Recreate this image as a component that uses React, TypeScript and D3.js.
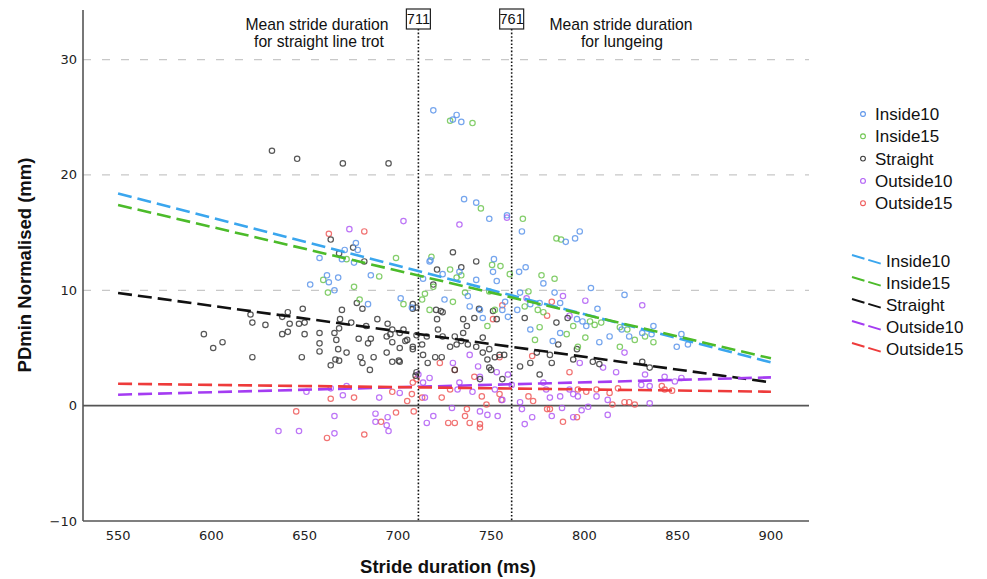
import React from "react";
import * as d3 from "d3";

const xTicks = [550, 600, 650, 700, 750, 800, 850, 900];
const yTicks = [-10, 0, 10, 20, 30];
const gridValues = [10, 20, 30];
const seriesNames = ["Inside10", "Inside15", "Straight", "Outside10", "Outside15"];
const pointColors = ["#5d95ea", "#6fc651", "#3a3a3a", "#b05cf5", "#ef5a5a"];
const lineColors = ["#3aa6ee", "#4cbb2a", "#111111", "#a43cf2", "#ee3b3b"];
const meanLines = [711, 761];

// regression fits [x0, y0, x1, y1]
const fitInside10 = [550, 18.4, 900, 3.75];
const fitInside15 = [550, 17.4, 900, 4.1];
const fitStraight = [550, 9.77, 900, 2.02];
const fitOutside10 = [550, 0.95, 900, 2.45];
const fitOutside15 = [550, 1.9, 900, 1.21];

const straight = [
  [632.5, 22.1], [646, 21.4], [670.5, 21.0], [695, 21.0],
  [664, 14.4], [668.5, 13.2], [676, 13.7], [682, 12.5],
  [729.5, 13.3], [742, 12.5], [734, 12.0], [721, 11.8],
  [719, 10.5], [720.5, 8.3], [723, 8.2], [724, 8.1], [721, 7.5], [735, 7.5], [737, 6.9], [735, 6.3],
  [743.5, 8.4], [741, 7.6], [751, 8.2], [753, 7.5], [721.5, 6.6], [710, 8.5], [708, 8.8], [715.5, 6.0],
  [724, 6.0], [730.5, 6.0], [745.5, 5.9], [705, 5.7], [694, 6.0], [701, 6.3], [697, 6.6],
  [596, 6.2], [601, 5.0], [606, 5.5], [621, 7.9], [622, 7.2], [622, 4.2], [629, 7.0], [638, 7.7],
  [641, 8.1], [638, 6.2], [641, 6.4], [642, 7.1], [647, 7.1], [649, 8.4], [650, 6.2], [650, 7.2],
  [648.5, 4.2], [658, 6.3], [658, 5.4], [658, 4.7], [664, 3.5], [666, 6.3], [667, 5.7], [668, 4.9],
  [668.5, 6.7], [669, 7.5], [670, 8.3], [668.5, 3.9], [666.5, 4.0], [672.5, 4.6], [675, 7.2],
  [678, 8.9], [679, 5.8], [681, 8.4], [680, 4.2], [681, 3.7], [684, 5.4], [685.5, 5.8], [685, 3.1],
  [683, 6.9], [687, 4.2], [689, 7.5], [694, 4.6], [694.5, 7.1], [696, 6.2], [697, 5.5], [697, 3.8],
  [700.5, 3.9], [701, 5.0], [703, 6.6], [704, 5.6], [708, 4.9], [708, 8.4], [710, 6.1], [709.5, 2.6],
  [701, 3.8], [708, 5.1], [713.5, 4.4], [716, 3.7], [720, 4.2], [723.5, 4.2], [710, 2.9], [713, 5.3],
  [728, 5.1], [731.5, 5.3], [734, 5.6], [737.5, 5.3], [742, 5.1], [745.5, 4.6], [748, 4.0], [749, 3.3],
  [752, 4.2], [754.5, 4.4], [757, 4.4], [756, 2.3], [730.5, 3.1], [749, 4.9],
  [771, 3.7], [776, 2.7], [765.5, 3.4], [781.5, 4.4], [782.5, 3.7], [786, 5.3], [794, 4.0], [796, 4.9],
  [804.5, 3.8], [808, 3.6], [831, 3.8], [774.5, 4.6], [768, 7.6], [785, 7.2], [791, 7.6], [835, 3.3],
  [744, 2.3], [750, 3.1],
];

const inside10 = [
  [719, 25.6], [731.5, 25.2], [729.5, 24.8], [734, 24.6], [735.5, 17.9], [742, 17.6], [749, 16.2],
  [758.5, 16.5], [766.5, 15.1], [790, 14.2], [795, 14.5], [797.5, 15.1], [717.5, 12.6], [751.5, 12.7],
  [751, 11.6], [753, 10.8], [742, 10.9], [768.5, 12.0], [765, 11.6], [778, 10.6], [784, 9.8],
  [803.5, 10.2], [821.5, 9.6], [724, 11.4], [713.5, 11.0],
  [653, 10.5], [658, 12.8], [662, 11.3], [663, 10.7], [668, 11.1], [666, 10.0], [670, 12.7],
  [671.5, 13.5], [677.5, 14.1], [676.5, 12.4], [678.5, 13.5], [685.5, 11.3], [701.5, 9.3],
  [707.5, 8.5], [684, 8.8],
  [717, 12.5], [725, 9.2], [733, 11.6], [737.5, 9.5], [744, 8.3], [745.5, 7.6], [756, 8.3],
  [759, 7.7], [757.5, 9.0], [738.5, 8.6],
  [771, 8.8], [776, 8.9], [787, 8.9], [796, 7.5], [807, 8.4], [771, 6.6], [799, 7.3], [801, 6.9],
  [808, 5.5], [813.5, 6.0], [824, 6.0], [831, 6.3], [820, 6.6], [787, 6.3], [783, 5.6], [764, 8.3],
  [765.5, 9.8], [837, 6.9], [852, 6.2], [849.5, 5.1], [855.5, 5.3], [836, 6.2],
];

const inside15 = [
  [728, 24.7], [740, 24.5], [744.5, 17.1], [767, 16.2], [785, 14.5], [787.5, 14.4], [718, 12.9],
  [728, 11.8], [734, 11.3], [750.5, 12.2], [755, 12.1], [760, 11.4], [777, 11.3], [784, 11.0],
  [660, 10.9], [662.5, 9.8], [672.5, 12.7], [676.5, 10.3], [690, 11.2], [699, 12.8], [679.5, 9.2],
  [731.5, 11.1], [719, 10.3], [714.5, 9.7], [717, 8.3], [729.5, 9.0], [736, 9.8], [749, 9.9],
  [752, 8.3], [748, 6.9], [703, 8.8], [713, 9.2],
  [770, 9.9], [768, 8.6], [775, 8.3], [778, 8.1], [776, 6.8], [773.5, 5.7], [790.5, 6.2], [794, 6.9],
  [803, 7.3], [805.5, 7.0], [809, 7.2], [800.5, 5.9], [819, 6.8], [823, 6.6], [827, 5.7], [819, 5.1],
  [796.5, 5.1], [837, 5.5], [832.5, 6.0],
];

const outside10 = [
  [674, 15.3], [703, 16.0], [733, 15.7], [758.5, 16.3],
  [636, -2.2], [647, -2.2], [651, 1.2], [666, -0.9], [666, -2.4], [670.5, 0.9], [672.5, 1.7],
  [688, -0.7], [688, -1.4], [690, 0.7], [694.5, -1.0], [694, -1.7], [695, -2.2], [701, 1.1], [711, 2.7],
  [713.5, 2.0], [717, 2.4], [714.5, 0.7], [729.5, 3.7], [729, -0.2], [719, -0.9], [715.5, -1.5],
  [738.5, 4.4], [743, 3.4], [744, 2.5], [740, 1.2], [753, 2.9], [752, 1.4], [756, 0.5], [753.5, -0.9],
  [732, 1.4], [733, 2.0], [744, -0.5], [748, -0.8], [759, 2.7], [761, 1.8],
  [765.5, 0.3], [766.5, -0.3], [768, -1.6], [772, -1.0], [778, 2.0], [779.5, 1.4], [781.5, 0.7],
  [782.5, -0.9], [788, -0.2], [792, 1.4], [794, 1.0], [796.5, 0.8], [798.5, -0.4], [802, -0.1],
  [794, -1.0], [810, 3.3], [812.5, 0.5], [812.5, -0.8], [817, 2.9], [821.5, 4.6], [797.5, 3.7],
  [806.5, 0.8], [787, 0.8],
  [788.5, 9.5], [800.5, 9.1], [831, 8.7], [792, 7.8], [769, 9.3],
  [832.5, 2.7], [830.5, 1.8], [835, 1.7], [843, 2.5], [848.5, 2.1], [852, 2.4], [835, 0.2], [664, 1.5],
];

const outside15 = [
  [663, 14.9], [682, 15.1],
  [645.5, -0.5], [662, -2.8], [664, 0.6], [676.5, 0.7], [682, -2.5], [691, -1.4], [697, 1.2],
  [699, -0.6], [705, 0.4], [707.5, 1.0], [708.5, -0.5], [710, 2.3],
  [722.5, 3.7], [730.5, 3.1], [713, 0.7], [723.5, 0.7], [728, 1.4], [727, -1.5], [730.5, -1.5],
  [737, -0.3], [736, -0.9], [738.5, -1.5], [744, -1.6], [744, -1.9], [741, 2.5], [745, 0.8],
  [747.5, 0.1], [754.5, 4.2], [754.5, 1.0], [755.5, 0.5], [708, 2.0],
  [756, 8.7], [751, 7.5], [782.5, 9.0], [780, 7.8],
  [772, 4.3], [792, 2.9], [770, 0.8], [772.5, 0.4], [780, -0.3], [781.5, -0.3], [788.5, -1.4],
  [796, -1.0], [796.5, 1.4], [801, 1.2], [821.5, 0.3], [824, 0.3], [827, 0.1], [806.5, 1.4],
  [813.5, 1.1], [818, 1.5], [815, 0.1], [843, 1.4], [847, 1.3], [841.5, 1.7],
];

const pointSeries = [inside10, inside15, straight, outside10, outside15];
const fits = [fitInside10, fitInside15, fitStraight, fitOutside10, fitOutside15];

const W = 987;
const H = 579;
const plotLeft = 83;
const plotRight = 809;
const plotTop = 10;
const plotBottom = 521;

export default function App() {
  const x = d3.scaleLinear().domain([531.2, 920.4]).range([plotLeft, plotRight]);
  const y = d3.scaleLinear().domain([-10, 34.3]).range([plotBottom, plotTop]);
  const line = d3
    .line<number[]>()
    .x((d) => x(d[0]))
    .y((d) => y(d[1]));

  const tickFont = "'DejaVu Sans', Verdana, sans-serif";
  const sans = "'Liberation Sans', Arial, Helvetica, sans-serif";

  const drawOrder = [4, 3, 2, 1, 0];

  return (
    <svg
      width={W}
      height={H}
      style={{ position: "absolute", left: 0, top: 0, background: "#fff" }}
    >
      <rect x={0} y={0} width={W} height={H} fill="#fff" />
      {gridValues.map((v) => (
        <line
          key={"g" + v}
          x1={plotLeft}
          x2={plotRight}
          y1={y(v)}
          y2={y(v)}
          stroke="#c8c8c8"
          strokeWidth={1.3}
          strokeDasharray="8,11"
        />
      ))}
      <line x1={plotLeft} x2={plotRight} y1={y(0)} y2={y(0)} stroke="#555" strokeWidth={1.6} />

      {drawOrder.map((si) =>
        pointSeries[si].map((p, i) => (
          <circle
            key={"p" + si + "-" + i}
            cx={x(p[0])}
            cy={y(p[1])}
            r={2.7}
            fill="none"
            stroke={pointColors[si]}
            strokeWidth={1.2}
            opacity={0.85}
          />
        ))
      )}

      {meanLines.map((m) => (
        <g key={"m" + m}>
          <line
            x1={x(m)}
            x2={x(m)}
            y1={29}
            y2={plotBottom}
            stroke="#111"
            strokeWidth={1.6}
            strokeDasharray="1.6,2"
          />
          <rect x={x(m) - 12} y={9} width={24} height={20} fill="#fff" stroke="#222" strokeWidth={1.2} />
          <text x={x(m)} y={24} textAnchor="middle" fontFamily={sans} fontSize={14.5} fill="#111">
            {m}
          </text>
        </g>
      ))}

      {fits.map((f, i) => (
        <path
          key={"f" + i}
          d={line([
            [f[0], f[1]],
            [f[2], f[3]],
          ]) || ""}
          stroke={lineColors[i]}
          strokeWidth={2.6}
          strokeDasharray="14,6"
          fill="none"
        />
      ))}

      <line x1={plotLeft} x2={plotLeft} y1={plotTop} y2={plotBottom} stroke="#555" strokeWidth={1.6} />
      <line x1={plotLeft} x2={plotRight} y1={plotBottom} y2={plotBottom} stroke="#555" strokeWidth={1.6} />
      {xTicks.map((t) => (
        <text key={"xt" + t} x={x(t)} y={540} textAnchor="middle" fontFamily={tickFont} fontSize={13} fill="#222">
          {t}
        </text>
      ))}
      {yTicks.map((t) => (
        <text
          key={"yt" + t}
          x={77}
          y={y(t) + 4.5}
          textAnchor="end"
          fontFamily={tickFont}
          fontSize={13}
          fill="#222"
        >
          {t === -10 ? "\u221210" : t}
        </text>
      ))}

      <text x={448} y={573} textAnchor="middle" fontFamily={sans} fontWeight="bold" fontSize={18.5} fill="#111">
        Stride duration (ms)
      </text>
      <text
        transform={`translate(31,265) rotate(-90)`}
        textAnchor="middle"
        fontFamily={sans}
        fontWeight="bold"
        fontSize={18.5}
        fill="#111"
      >
        PDmin Normalised (mm)
      </text>

      <text x={317} y={30} textAnchor="middle" fontFamily={sans} fontSize={15.7} fill="#111">
        Mean stride duration
      </text>
      <text x={319} y={47} textAnchor="middle" fontFamily={sans} fontSize={15.7} fill="#111">
        for straight line trot
      </text>
      <text x={621} y={30} textAnchor="middle" fontFamily={sans} fontSize={15.7} fill="#111">
        Mean stride duration
      </text>
      <text x={622} y={47} textAnchor="middle" fontFamily={sans} fontSize={15.7} fill="#111">
        for lungeing
      </text>

      {seriesNames.map((n, i) => (
        <g key={"lp" + n}>
          <circle cx={863} cy={114 + i * 22.3} r={2.4} fill="none" stroke={pointColors[i]} strokeWidth={1.1} />
          <text x={875} y={120 + i * 22.3} fontFamily={sans} fontSize={17} fill="#111">
            {n}
          </text>
        </g>
      ))}
      {seriesNames.map((n, i) => {
        const cy = 261 + i * 22;
        return (
          <g key={"ll" + n}>
            <line
              x1={852}
              y1={cy - 6}
              x2={882}
              y2={cy + 3}
              stroke={lineColors[i]}
              strokeWidth={2}
              strokeDasharray="13,4"
            />
            <text x={886} y={cy + 6} fontFamily={sans} fontSize={17} fill="#111">
              {n}
            </text>
          </g>
        );
      })}
    </svg>
  );
}
